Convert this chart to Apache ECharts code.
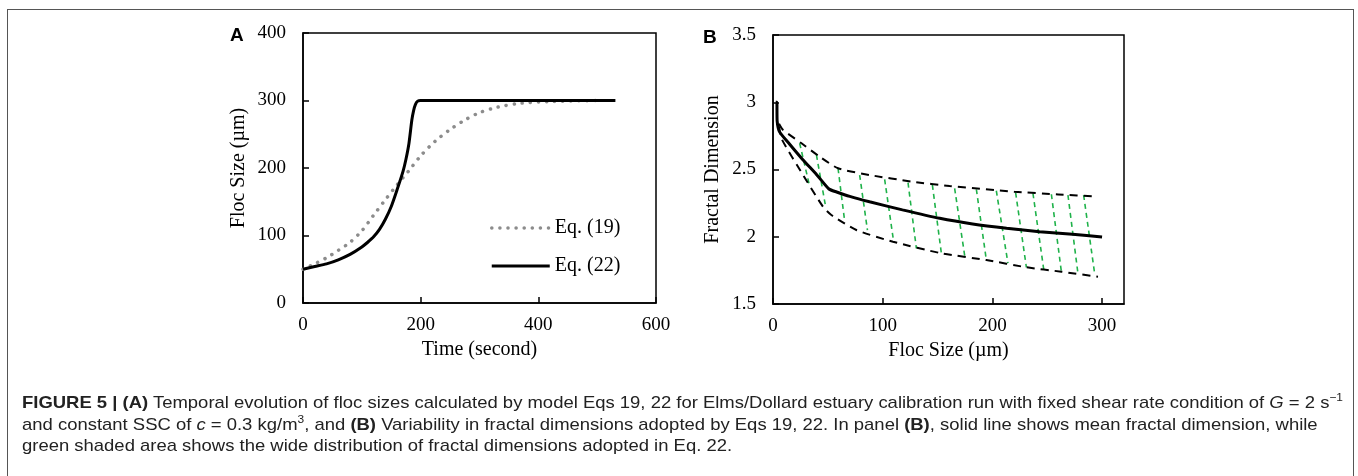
<!DOCTYPE html>
<html>
<head>
<meta charset="utf-8">
<script src="https://cdn.jsdelivr.net/npm/echarts@6/dist/echarts.min.js"></script>
<style>
  html, body { margin: 0; padding: 0; background: #fff; }
  #wrap { position: relative; width: 1358px; height: 476px; overflow: hidden; }
  #chart { position: absolute; left: 0; top: 0; width: 1358px; height: 476px; }
  #frame { position: absolute; left: 7px; top: 9px; width: 1347px; height: 500px;
           border: 1.5px solid #555; box-sizing: border-box; pointer-events: none; }
  .cap { position: absolute; left: 22px; white-space: nowrap; color: #222;
         font-family: "Liberation Sans Narrow", "Liberation Sans", Arial, sans-serif;
         font-size: 17px; line-height: 21px; transform-origin: 0 50%; }
  .cap sup { font-size: 11px; line-height: 0; vertical-align: 7px; }
</style>
</head>
<body>
<div id="wrap">
  <div id="chart"></div>
  <div id="frame"></div>
  <div class="cap" id="cap1" style="top:392px"><b>FIGURE 5 | (A)</b> Temporal evolution of floc sizes calculated by model Eqs 19, 22 for Elms/Dollard estuary calibration run with fixed shear rate condition of <i>G</i> = 2 s<sup>−1</sup></div>
  <div class="cap" id="cap2" style="top:414px">and constant SSC of <i>c</i> = 0.3 kg/m<sup>3</sup>, and <b>(B)</b> Variability in fractal dimensions adopted by Eqs 19, 22. In panel <b>(B)</b>, solid line shows mean fractal dimension, while</div>
  <div class="cap" id="cap3" style="top:435px">green shaded area shows the wide distribution of fractal dimensions adopted in Eq. 22.</div>
</div>
<script>
// ---------- Panel A data ----------
var eq19Time = [0, 20, 40, 60, 80, 100, 120, 140, 160, 180, 200, 225, 250, 275, 300, 330, 370, 420, 500];
var eq19Size = [50, 58, 67, 78, 90, 107, 130, 153, 175, 196, 218, 240, 257, 271, 282, 290, 296, 298.5, 300];
var eq22Time = [0, 20, 40, 60, 80, 100, 110, 120, 130, 140, 150, 160, 170, 175, 180, 185, 188, 191, 195, 200, 220, 300, 400, 531];
var eq22Size = [50, 54, 58, 64, 72, 83, 90, 98, 109, 124, 143, 168, 195, 213, 236, 271, 285, 294, 299, 300, 300, 300, 300, 300];
var aXTicks = [0, 200, 400, 600];
var aYTicks = [0, 100, 200, 300, 400];

// ---------- Panel B data ----------
var meanX = [2.5, 3.5, 3.8, 6, 15, 27, 40, 51, 58, 70, 88, 118, 152, 182, 213, 243, 273, 300];
var meanY = [3.0, 3.0, 2.86, 2.78, 2.69, 2.575, 2.46, 2.355, 2.333, 2.30, 2.26, 2.20, 2.137, 2.095, 2.063, 2.038, 2.018, 1.998];
var upperX = [5.5, 9, 26, 42.6, 59.3, 88, 127.6, 161, 220, 260, 296];
var upperY = [2.84, 2.795, 2.695, 2.595, 2.509, 2.459, 2.409, 2.377, 2.335, 2.315, 2.298];
var lowerX = [5.5, 7.7, 27.4, 45.6, 53.2, 76, 109.4, 153.5, 194.5, 231, 262.9, 296.3];
var lowerY = [2.82, 2.73, 2.459, 2.223, 2.162, 2.05, 1.963, 1.877, 1.827, 1.773, 1.74, 1.703];
var greenTopX = [24.3, 39.6, 59.3, 79.0, 101.8, 123.1, 145.3, 165.6, 185.4, 203.6, 221.2, 237.0, 253.8, 268.9, 283.2];
var greenTopY = [2.695, 2.608, 2.509, 2.459, 2.427, 2.402, 2.385, 2.360, 2.353, 2.342, 2.328, 2.323, 2.316, 2.310, 2.310];
var greenBotX = [33.5, 48.0, 65.4, 86.1, 110.0, 130.7, 153.5, 174.8, 194.5, 214.2, 231.0, 246.8, 262.9, 278.0, 293.3];
var greenBotY = [2.372, 2.223, 2.112, 2.050, 1.963, 1.914, 1.877, 1.857, 1.827, 1.803, 1.773, 1.758, 1.740, 1.728, 1.723];
var bXTicks = [0, 100, 200, 300];
var bYTicks = [1.5, 2, 2.5, 3, 3.5];

function pairs(xs, ys) { return xs.map(function (x, i) { return [x, ys[i]]; }); }

var SERIF = '"Liberation Serif", "Times New Roman", serif';
var axisCommon = {
  axisLine: { show: true, onZero: false, lineStyle: { color: '#000', width: 1.5 } },
  axisTick: { show: true, inside: true, length: 6, lineStyle: { color: '#000', width: 1.5 } },
  splitLine: { show: false },
  axisLabel: { color: '#000', fontFamily: SERIF, fontSize: 19 },
  nameTextStyle: { color: '#000', fontFamily: SERIF, fontSize: 20 }
};
function ax(extra) {
  var o = JSON.parse(JSON.stringify(axisCommon));
  for (var k in extra) {
    if (typeof extra[k] === 'object' && o[k]) { for (var j in extra[k]) o[k][j] = extra[k][j]; }
    else o[k] = extra[k];
  }
  return o;
}

var eq19Style = { color: '#8c8c8c', width: 3.5, type: [0.1, 8], cap: 'round' };
var eq22Style = { color: '#000', width: 3 };

var chart = echarts.init(document.getElementById('chart'), null, { renderer: 'canvas' });
var greenLines = greenTopX.map(function (x, i) {
  return { coords: [[x, greenTopY[i]], [greenBotX[i], greenBotY[i]]] };
});

chart.setOption({
  animation: false,
  backgroundColor: 'transparent',
  grid: [
    { left: 303, top: 33, right: 702, bottom: 173, show: true, borderColor: '#000', borderWidth: 1.5, containLabel: false },
    { left: 773, top: 35, right: 234, bottom: 172, show: true, borderColor: '#000', borderWidth: 1.5, containLabel: false }
  ],
  xAxis: [
    ax({ type: 'value', gridIndex: 0, min: aXTicks[0], max: aXTicks[aXTicks.length - 1], interval: 200,
         name: 'Time (second)', nameLocation: 'middle', nameGap: 36,
         axisLabel: { margin: 13 } }),
    ax({ type: 'value', gridIndex: 1, min: 0, max: 320, interval: 100,
         name: 'Floc Size (\u00b5m)', nameLocation: 'middle', nameGap: 36,
         axisLabel: { margin: 13, showMaxLabel: false } })
  ],
  yAxis: [
    ax({ type: 'value', gridIndex: 0, min: aYTicks[0], max: aYTicks[aYTicks.length - 1], interval: 100,
         name: 'Floc Size (\u00b5m)', nameLocation: 'middle', nameGap: 54, nameRotate: 90,
         axisLabel: { margin: 17 } }),
    ax({ type: 'value', gridIndex: 1, min: bYTicks[0], max: bYTicks[bYTicks.length - 1], interval: 0.5,
         name: 'Fractal Dimension', nameLocation: 'middle', nameGap: 50, nameRotate: 90,
         axisLabel: { margin: 17 } })
  ],
  legend: {
    left: 490, top: 218, padding: 0, orient: 'vertical', itemWidth: 58, itemHeight: 20, itemGap: 18,
    textStyle: { color: '#000', fontFamily: SERIF, fontSize: 20, lineHeight: 20, padding: [0, 0, 0, 0] },
    itemStyle: { opacity: 0 },
    data: [
      { name: 'Eq. (19)', itemStyle: { opacity: 0 }, lineStyle: eq19Style },
      { name: 'Eq. (22)', itemStyle: { opacity: 0 }, lineStyle: eq22Style }
    ]
  },
  graphic: [
    { type: 'text', left: 230, top: 26, style: { text: 'A', font: 'bold 19px "Liberation Sans", Arial, sans-serif', fill: '#000' } },
    { type: 'text', left: 703, top: 28, style: { text: 'B', font: 'bold 19px "Liberation Sans", Arial, sans-serif', fill: '#000' } }
  ],
  series: [
    { name: 'Eq. (19)', type: 'line', xAxisIndex: 0, yAxisIndex: 0, data: pairs(eq19Time, eq19Size),
      smooth: 0.3, showSymbol: false, symbol: 'none', z: 2,
      lineStyle: eq19Style, itemStyle: { color: '#8c8c8c' } },
    { name: 'Eq. (22)', type: 'line', xAxisIndex: 0, yAxisIndex: 0, data: pairs(eq22Time, eq22Size),
      smooth: 0.25, showSymbol: false, symbol: 'none', z: 3,
      lineStyle: eq22Style, itemStyle: { color: '#000' } },
    { name: 'range', type: 'lines', coordinateSystem: 'cartesian2d', xAxisIndex: 1, yAxisIndex: 1,
      data: greenLines, z: 1, silent: true,
      lineStyle: { color: '#1fb24a', width: 1.6, type: [5, 4], opacity: 1 } },
    { name: 'upper', type: 'line', xAxisIndex: 1, yAxisIndex: 1, data: pairs(upperX, upperY),
      smooth: 0.2, showSymbol: false, symbol: 'none', z: 2,
      lineStyle: { color: '#000', width: 2, type: [8, 6] } },
    { name: 'lower', type: 'line', xAxisIndex: 1, yAxisIndex: 1, data: pairs(lowerX, lowerY),
      smooth: 0.2, showSymbol: false, symbol: 'none', z: 2,
      lineStyle: { color: '#000', width: 2, type: [8, 6] } },
    { name: 'mean', type: 'line', xAxisIndex: 1, yAxisIndex: 1, data: pairs(meanX, meanY),
      smooth: 0.2, showSymbol: false, symbol: 'none', z: 3,
      lineStyle: { color: '#000', width: 3 } }
  ]
});

// fit caption lines to the reference width
(function () {
  var c1 = document.getElementById('cap1');
  var w = c1.getBoundingClientRect().width;
  var s = 1321 / w;
  ['cap1', 'cap2', 'cap3'].forEach(function (id) {
    document.getElementById(id).style.transform = 'scaleX(' + s + ')';
  });
})();
</script>
</body>
</html>
